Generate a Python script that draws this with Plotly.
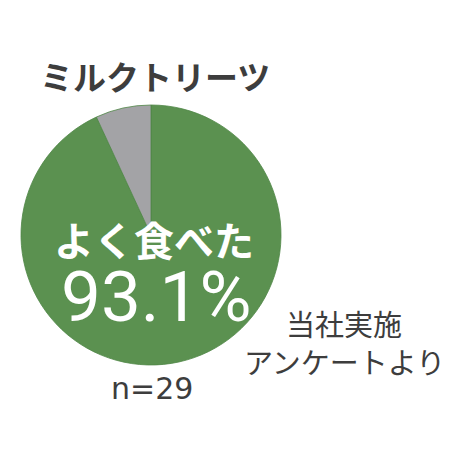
import plotly.graph_objects as go

# アンケート結果
labels = ["よく食べた", "その他"]
values = [93.1, 6.9]
colors = ["#5b9150", "#a3a3a6"]

title_text = "ミルクトリーツ"
main_label = "よく食べた"
pct_text = "93.1%"
n_text = "n=29"
note_lines = ["当社実施", "アンケートより"]

W, H = 460, 460
OFF = 8  # page body margin
cx, cy, r = 151 - OFF, 235 - OFF, 130  # pixel

fig = go.Figure(data=[go.Pie(
    labels=labels, values=values,
    marker=dict(colors=colors, line=dict(color="#4f8646", width=0.8)),
    sort=False, direction="clockwise", rotation=0,
    textinfo="none", hoverinfo="label+percent",
    domain=dict(x=[(cx - r) / W, (cx + r) / W],
                y=[(H - cy - r) / H, (H - cy + r) / H]),
)])

def px(x, y):
    return (x - OFF) / W, 1 - (y - OFF) / H

anns = []
x, y = px(155, 76)
anns.append(dict(x=x, y=y, text="<b>" + title_text + "</b>", showarrow=False,
                 font=dict(family="Noto Sans CJK JP", size=33, color="#3d3d3d")))
x, y = px(154, 239)
anns.append(dict(x=x, y=y, text="<b>" + main_label + "</b>", showarrow=False,
                 font=dict(family="Noto Sans CJK JP", size=40, color="white")))
x, y = px(156, 296)
anns.append(dict(x=x, y=y, text=pct_text, showarrow=False,
                 font=dict(family="Roboto", size=71, color="white")))
x, y = px(152, 388)
anns.append(dict(x=x, y=y, text=n_text, showarrow=False,
                 font=dict(family="DejaVu Sans", size=30, color="#3d3d3d")))
for i, line in enumerate(note_lines):
    x, y = px(344, 323 + 38 * i)
    anns.append(dict(x=x, y=y, text=line, showarrow=False,
                     font=dict(family="Noto Sans CJK JP", size=29, color="#3d3d3d")))

for a in anns:
    a.update(xref="paper", yref="paper", xanchor="center", yanchor="middle")

fig.update_layout(
    width=W, height=H,
    margin=dict(l=0, r=0, t=0, b=0),
    showlegend=False,
    paper_bgcolor="white",
    annotations=anns,
)
fig.write_html("out.html")
